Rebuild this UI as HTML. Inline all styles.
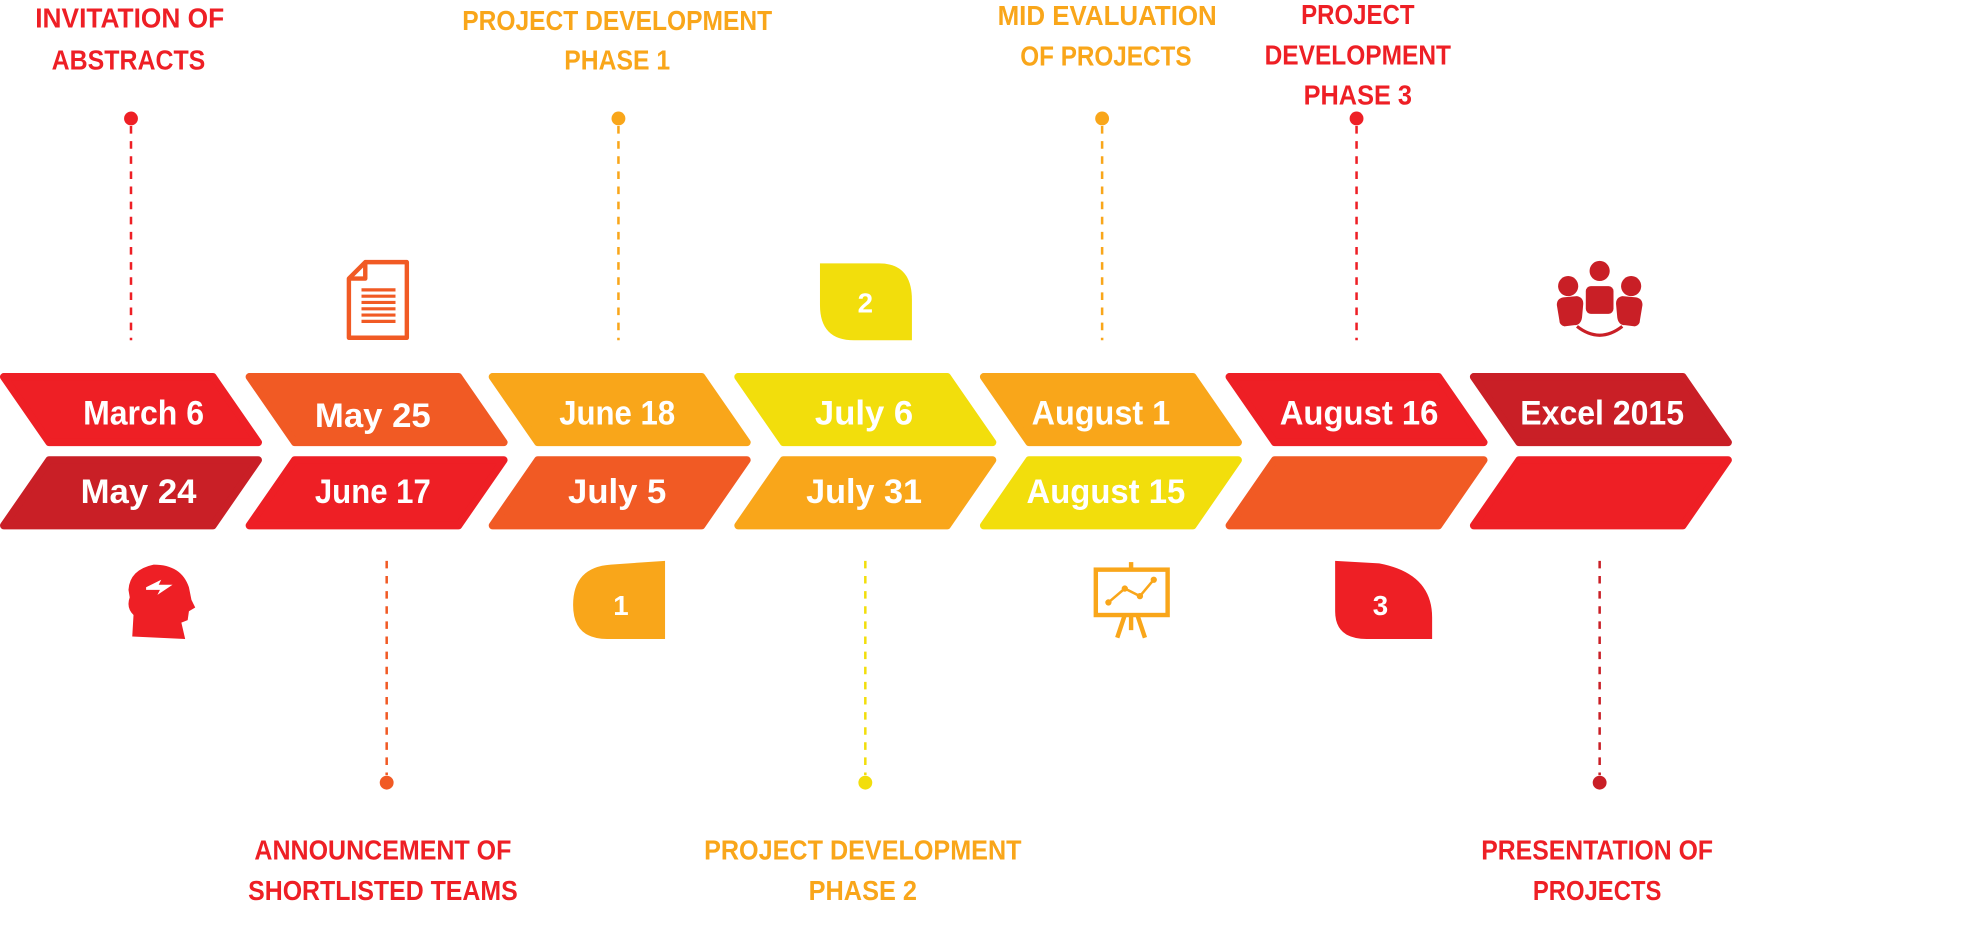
<!DOCTYPE html>
<html><head><meta charset="utf-8"><style>
html,body{margin:0;padding:0;background:#fff;width:1975px;height:949px;overflow:hidden}
svg{display:block}
.d{font-family:"Liberation Sans",sans-serif;font-weight:bold;font-size:27px;fill:#fff;text-anchor:middle}
.l{font-family:"Liberation Sans",sans-serif;font-weight:bold;font-size:22px;text-anchor:middle}
</style></head><body>
<svg width="1975" height="949" viewBox="0 0 1568 753" preserveAspectRatio="none" xmlns="http://www.w3.org/2000/svg">
<g stroke-linejoin="round" stroke-width="6">
<!-- top row -->
<polygon points="3,299 169,299 205,351 39,351" fill="#ee1f25" stroke="#ee1f25"/>
<polygon points="198,299 364,299 400,351 234,351" fill="#f15a24" stroke="#f15a24"/>
<polygon points="391,299 557,299 593,351 427,351" fill="#f9a61a" stroke="#f9a61a"/>
<polygon points="586,299 752,299 788,351 622,351" fill="#f2de0c" stroke="#f2de0c"/>
<polygon points="781,299 947,299 983,351 817,351" fill="#f9a61a" stroke="#f9a61a"/>
<polygon points="976,299 1142,299 1178,351 1012,351" fill="#ee1f25" stroke="#ee1f25"/>
<polygon points="1170,299 1336,299 1372,351 1206,351" fill="#c91f26" stroke="#c91f26"/>
<!-- bottom row -->
<polygon points="39,365 205,365 169,417 3,417" fill="#c91f26" stroke="#c91f26"/>
<polygon points="234,365 400,365 364,417 198,417" fill="#ee1f25" stroke="#ee1f25"/>
<polygon points="427,365 593,365 557,417 391,417" fill="#f15a24" stroke="#f15a24"/>
<polygon points="622,365 788,365 752,417 586,417" fill="#f9a61a" stroke="#f9a61a"/>
<polygon points="817,365 983,365 947,417 781,417" fill="#f2de0c" stroke="#f2de0c"/>
<polygon points="1012,365 1178,365 1142,417 976,417" fill="#f15a24" stroke="#f15a24"/>
<polygon points="1206,365 1372,365 1336,417 1170,417" fill="#ee1f25" stroke="#ee1f25"/>
</g>
<g class="d">
<text x="114" y="337" textLength="96" lengthAdjust="spacingAndGlyphs">March 6</text>
<text x="296" y="339" textLength="92" lengthAdjust="spacingAndGlyphs">May 25</text>
<text x="490" y="337" textLength="92" lengthAdjust="spacingAndGlyphs">June 18</text>
<text x="686" y="337" textLength="78" lengthAdjust="spacingAndGlyphs">July 6</text>
<text x="874" y="337" textLength="110" lengthAdjust="spacingAndGlyphs">August 1</text>
<text x="1079" y="337" textLength="126" lengthAdjust="spacingAndGlyphs">August 16</text>
<text x="1272" y="337" textLength="130" lengthAdjust="spacingAndGlyphs">Excel 2015</text>
<text x="110" y="399" textLength="92" lengthAdjust="spacingAndGlyphs">May 24</text>
<text x="296" y="399" textLength="92" lengthAdjust="spacingAndGlyphs">June 17</text>
<text x="490" y="399" textLength="78" lengthAdjust="spacingAndGlyphs">July 5</text>
<text x="686" y="399" textLength="92" lengthAdjust="spacingAndGlyphs">July 31</text>
<text x="878" y="399" textLength="126" lengthAdjust="spacingAndGlyphs">August 15</text>
</g>
<!-- connectors -->
<g stroke-width="2" stroke-dasharray="6,6" fill="none">
<line x1="104" y1="100" x2="104" y2="270" stroke="#ee1f25"/>
<line x1="491" y1="100" x2="491" y2="270" stroke="#f9a61a"/>
<line x1="875" y1="100" x2="875" y2="270" stroke="#f9a61a"/>
<line x1="1077" y1="100" x2="1077" y2="270" stroke="#ee1f25"/>
<line x1="307" y1="445" x2="307" y2="615" stroke="#f15a24"/>
<line x1="687" y1="445" x2="687" y2="615" stroke="#f2de0c"/>
<line x1="1270" y1="445" x2="1270" y2="615" stroke="#c91f26"/>
</g>
<circle cx="104" cy="94" r="5.5" fill="#ee1f25"/>
<circle cx="491" cy="94" r="5.5" fill="#f9a61a"/>
<circle cx="875" cy="94" r="5.5" fill="#f9a61a"/>
<circle cx="1077" cy="94" r="5.5" fill="#ee1f25"/>
<circle cx="307" cy="621" r="5.5" fill="#f15a24"/>
<circle cx="687" cy="621" r="5.5" fill="#f2de0c"/>
<circle cx="1270" cy="621" r="5.5" fill="#c91f26"/>
<!-- labels -->
<g class="l">
<text x="103" y="22" fill="#ee1f25" textLength="150" lengthAdjust="spacingAndGlyphs">INVITATION OF</text>
<text x="102" y="55" fill="#ee1f25" textLength="122" lengthAdjust="spacingAndGlyphs">ABSTRACTS</text>
<text x="490" y="24" fill="#f9a61a" textLength="246" lengthAdjust="spacingAndGlyphs">PROJECT DEVELOPMENT</text>
<text x="490" y="55" fill="#f9a61a" textLength="84" lengthAdjust="spacingAndGlyphs">PHASE 1</text>
<text x="879" y="20" fill="#f9a61a" textLength="174" lengthAdjust="spacingAndGlyphs">MID EVALUATION</text>
<text x="878" y="52" fill="#f9a61a" textLength="136" lengthAdjust="spacingAndGlyphs">OF PROJECTS</text>
<text x="1078" y="19" fill="#ee1f25" textLength="90" lengthAdjust="spacingAndGlyphs">PROJECT</text>
<text x="1078" y="51" fill="#ee1f25" textLength="148" lengthAdjust="spacingAndGlyphs">DEVELOPMENT</text>
<text x="1078" y="83" fill="#ee1f25" textLength="86" lengthAdjust="spacingAndGlyphs">PHASE 3</text>
<text x="304" y="682" fill="#ee1f25" textLength="204" lengthAdjust="spacingAndGlyphs">ANNOUNCEMENT OF</text>
<text x="304" y="714" fill="#ee1f25" textLength="214" lengthAdjust="spacingAndGlyphs">SHORTLISTED TEAMS</text>
<text x="685" y="682" fill="#f9a61a" textLength="252" lengthAdjust="spacingAndGlyphs">PROJECT  DEVELOPMENT</text>
<text x="685" y="714" fill="#f9a61a" textLength="86" lengthAdjust="spacingAndGlyphs">PHASE 2</text>
<text x="1268" y="682" fill="#ee1f25" textLength="184" lengthAdjust="spacingAndGlyphs">PRESENTATION OF</text>
<text x="1268" y="714" fill="#ee1f25" textLength="102" lengthAdjust="spacingAndGlyphs">PROJECTS</text>
</g>
<!-- document icon -->
<g fill="none" stroke="#f15a24" stroke-width="3.5" stroke-linejoin="round">
<path d="M290,208 L323,208 L323,268 L277,268 L277,221 Z"/>
<path d="M277,221 L290,221 L290,208"/>
</g>
<g stroke="#f15a24" stroke-width="2.5">
<line x1="287" y1="230" x2="314" y2="230"/><line x1="287" y1="235" x2="314" y2="235"/>
<line x1="287" y1="240" x2="314" y2="240"/><line x1="287" y1="245" x2="314" y2="245"/>
<line x1="287" y1="250" x2="314" y2="250"/><line x1="287" y1="255" x2="314" y2="255"/>
</g>
<!-- badges -->
<path d="M651,209 L698,209 Q724,209 724,238 L724,270 L678,270 Q651,270 651,242 Z" fill="#f2de0c"/>
<text x="687" y="248" class="l" fill="#fff">2</text>
<path d="M528,445 L528,507 L482,507 Q455,507 455,480 Q455,450 485,448 Z" fill="#f9a61a"/>
<text x="493" y="488" class="l" fill="#fff">1</text>
<path d="M1060,445 L1095,447 Q1137,455 1137,490 L1137,507 L1085,507 Q1060,507 1060,485 Z" fill="#ee1f25"/>
<text x="1096" y="488" class="l" fill="#fff">3</text>
<!-- head icon -->
<path d="M105,505 L106,488 Q100,482 103,474 L102,468 Q103,452 122,448 Q144,448 150,466 L152,476 L155,482 L150,485 L149,492 L144,494 L147,507 Z" fill="#ee1f25"/>
<path d="M116,466 L128,460 L126,464 L137,464 L125,472 L127,468 L116,468 Z" fill="#fff"/>
<!-- presentation board -->
<g fill="none" stroke="#f9a61a" stroke-width="3.5">
<rect x="870" y="452" width="57" height="36"/>
<line x1="898" y1="446" x2="898" y2="452"/>
<line x1="893" y1="488" x2="887" y2="506"/><line x1="903" y1="488" x2="909" y2="506"/>
<line x1="898" y1="488" x2="898" y2="500"/>
</g>
<polyline points="880,478 893,467 905,473 916,460" fill="none" stroke="#f9a61a" stroke-width="2"/>
<g fill="#f9a61a"><circle cx="880" cy="478" r="2.5"/><circle cx="893" cy="467" r="2.5"/><circle cx="905" cy="473" r="2.5"/><circle cx="916" cy="460" r="2.5"/></g>
<!-- group icon -->
<g fill="#c91f26">
<circle cx="1270" cy="215" r="8"/>
<circle cx="1245" cy="227" r="8"/>
<circle cx="1295" cy="227" r="8"/>
<rect x="1259" y="227" width="22" height="22" rx="4"/>
<path d="M1236,242 Q1236,237 1241,236 L1252,235 Q1257,236 1257,241 L1256,252 Q1255,258 1250,258 L1242,259 Q1238,258 1238,254 Z"/>
<path d="M1304,242 Q1304,237 1299,236 L1288,235 Q1283,236 1283,241 L1284,252 Q1285,258 1290,258 L1298,259 Q1302,258 1302,254 Z"/>
</g>
<path d="M1252,259 Q1270,273 1288,259" fill="none" stroke="#c91f26" stroke-width="2.5"/>
</svg>
</body></html>
